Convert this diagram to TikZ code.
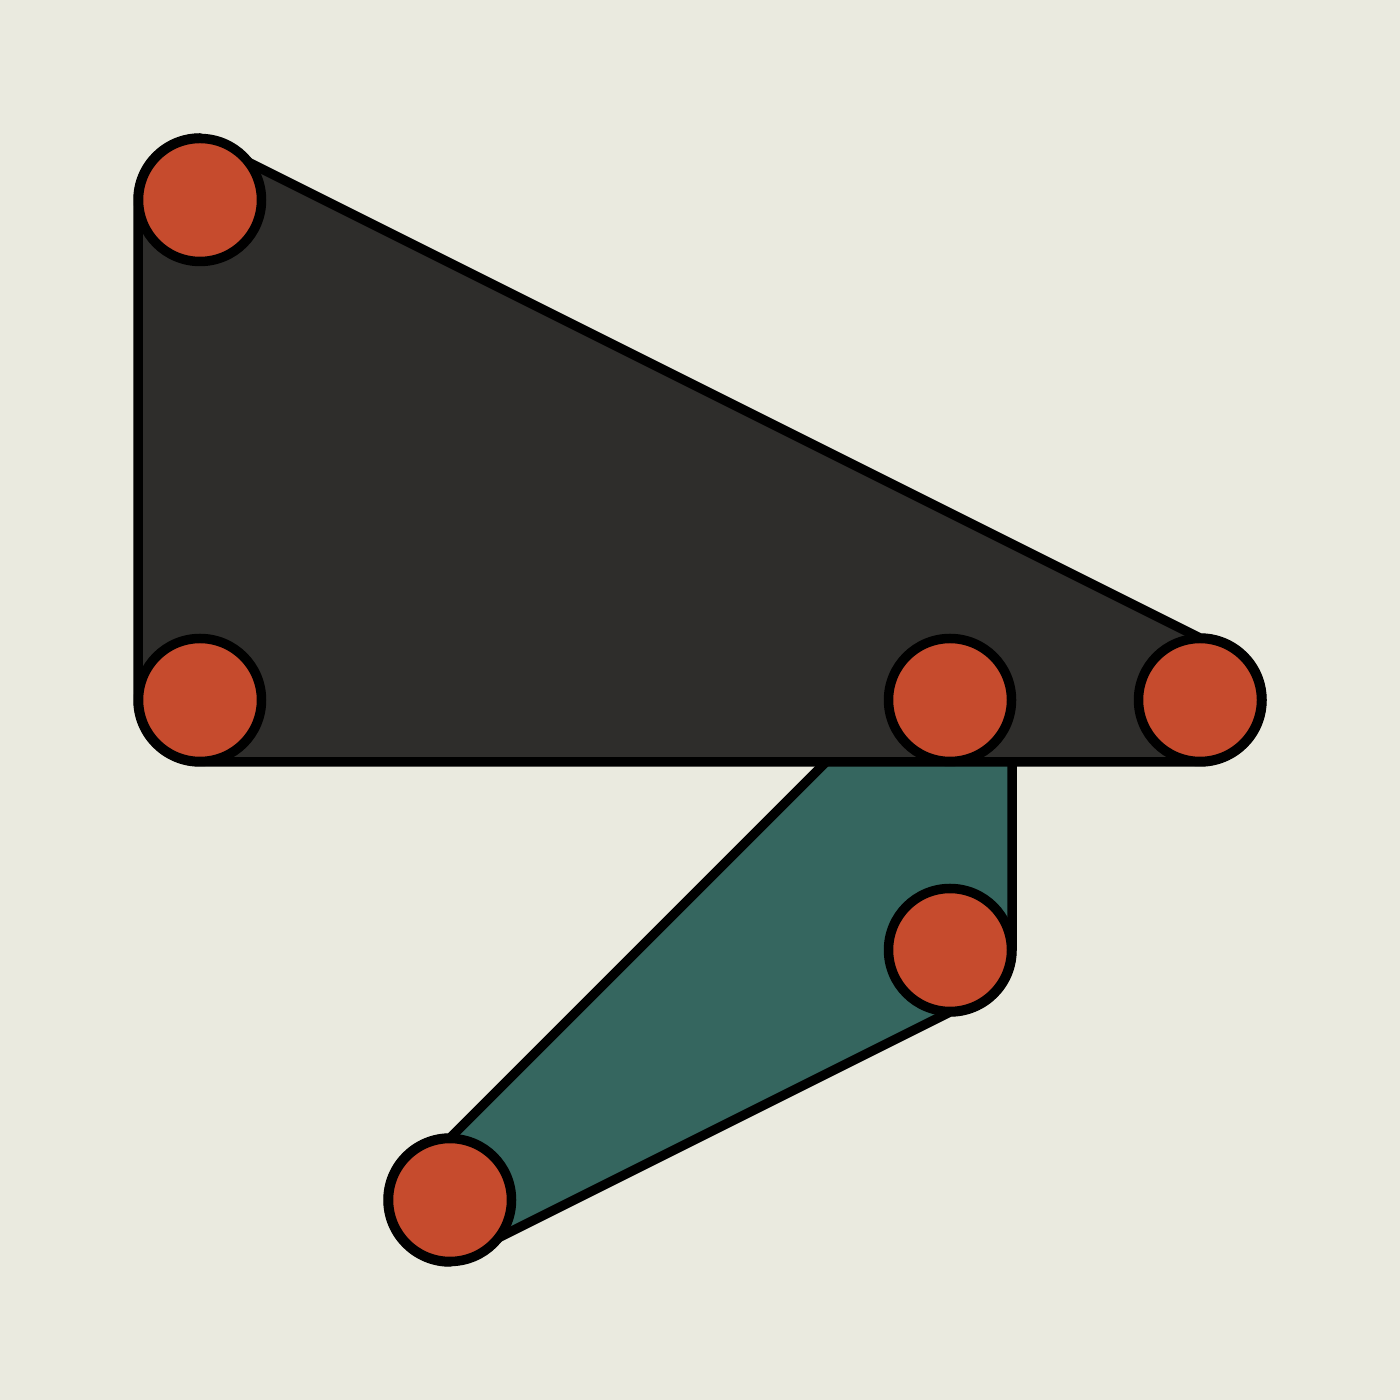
\documentclass[tikz,border=0pt]{standalone}
\definecolor{bgc}{HTML}{EAEADF}
\definecolor{darkc}{HTML}{2E2D2B}
\definecolor{tealc}{HTML}{35665F}
\definecolor{redc}{HTML}{C64B2D}
\begin{document}
\begin{tikzpicture}[x=1pt,y=1pt,
  hull/.style={draw=black,line width=9.5pt,line join=round},
  dot/.style={circle,draw=black,fill=redc,line width=9.5pt,minimum size=123pt,inner sep=0pt,outer sep=0pt}]
\fill[bgc] (0,0) rectangle (1400,1400);
\useasboundingbox (0,0) rectangle (1400,1400);
% teal hull
\path[hull,fill=tealc] (450,262) -- (888,700) arc[start angle=180,end angle=90,radius=62]
  arc[start angle=90,end angle=0,radius=62] -- (1012,450)
  arc[start angle=0,end angle=-90,radius=62] -- (450,138)
  arc[start angle=-90,end angle=-180,radius=62]
  arc[start angle=180,end angle=90,radius=62] -- cycle;
% dark hull
\path[hull,fill=darkc] (138,1200) arc[start angle=180,end angle=90,radius=62] -- (1200,762)
  arc[start angle=90,end angle=0,radius=62]
  arc[start angle=0,end angle=-90,radius=62] -- (200,638)
  arc[start angle=-90,end angle=-180,radius=62] -- cycle;
% points
\node[dot] (a) at (200,1200) {};
\node[dot] (b) at (200,700) {};
\node[dot] (c) at (950,700) {};
\node[dot] (d) at (1200,700) {};
\node[dot] (e) at (950,450) {};
\node[dot] (f) at (450,200) {};
\end{tikzpicture}
\end{document}
